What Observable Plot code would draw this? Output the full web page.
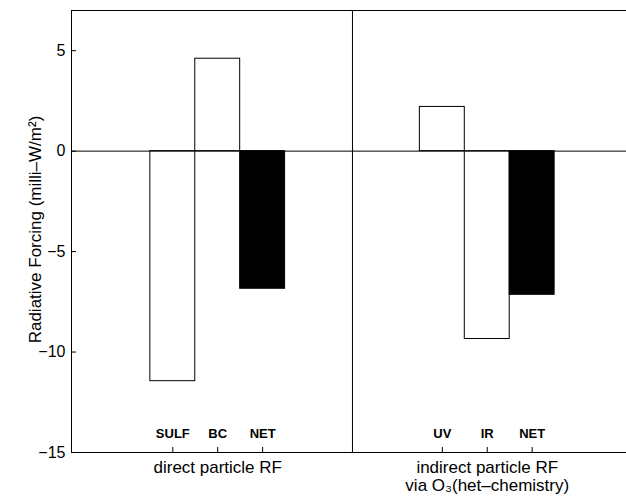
<!DOCTYPE html>
<html><head><meta charset="utf-8">
<script src="https://cdn.jsdelivr.net/npm/d3@7"></script>
<script src="https://cdn.jsdelivr.net/npm/@observablehq/plot@0.6"></script>
<style>body{margin:0;background:#fff}</style>
</head><body><div id="chart"></div>
<script>
const groups = ["direct particle RF", "indirect particle RF\nvia O₃(het–chemistry)"];
const categories = ["SULF", "BC", "NET", "UV", "IR", "NET"];
const categoryGroup = [0, 0, 0, 1, 1, 1];
const values = [-11.45, 4.6, -6.85, 2.2, -9.35, -7.15];
const yTicks = [-15, -10, -5, 0, 5];
const yLabel = "Radiative Forcing (milli–W/m²)";

const slot = categories.map((c, i) => {
  const g = categoryGroup[i];
  const k = categoryGroup.slice(0, i).filter(v => v === g).length;
  return g * 6 + k + 1;
});
const bars = categories.map((c, i) => ({name: c, x: slot[i], value: values[i], net: c === "NET"}));
const groupCenters = groups.map((g, gi) => d3.mean(bars.filter((b, i) => categoryGroup[i] === gi), b => b.x));
const divider = (groupCenters[0] + groupCenters[1]) / 2;
const xDomain = [-1.255, 11.1];
const yDomain = [-15, 7];

const chart = Plot.plot({
  width: 626, height: 500,
  marginLeft: 71, marginRight: 0, marginTop: 10, marginBottom: 48,
  style: {fontFamily: "'Liberation Sans', Arial, sans-serif", fontSize: "16px", color: "black", background: "white"},
  x: {type: "linear", domain: xDomain, axis: null},
  y: {domain: yDomain, axis: null},
  marks: [
    Plot.rect(bars.filter(d => !d.net), {x1: d => d.x - 0.5, x2: d => d.x + 0.5, y1: 0, y2: "value", fill: "white", stroke: "black", strokeWidth: 1}),
    Plot.rect(bars.filter(d => d.net), {x1: d => d.x - 0.5, x2: d => d.x + 0.5, y1: 0, y2: "value", fill: "black", stroke: "black", strokeWidth: 1}),
    Plot.ruleY([0], {stroke: "black"}),
    Plot.ruleX([divider], {stroke: "black"}),
    Plot.ruleY([yDomain[1]], {stroke: "black"}),
    Plot.ruleY([yDomain[0]], {stroke: "black"}),
    Plot.ruleX([xDomain[0]], {stroke: "black"}),
    Plot.axisY({ticks: yTicks, tickSize: 0, tickPadding: 6, label: null, fontSize: 16}),
    Plot.axisY({ticks: yTicks, tickSize: 5, dx: 5, tickFormat: () => "", label: null, stroke: "black"}),
    Plot.text([yLabel], {frameAnchor: "left", textAnchor: "middle", rotate: -90, dx: -36, dy: -2, fontSize: 17, text: d => d}),
    Plot.axisX({ticks: slot, tickSize: 5, dy: -5, tickFormat: () => "", label: null, stroke: "black"}),
    Plot.axisX({ticks: slot, tickSize: 0, tickPadding: 0, dy: -24, tickFormat: d => categories[slot.indexOf(d)], fontWeight: "bold", fontSize: 13, label: null}),
    Plot.axisX({ticks: groupCenters, tickSize: 0, tickPadding: 8, tickFormat: d => groups[groupCenters.indexOf(d)], fontSize: 17, lineHeight: 1.05, label: null})
  ]
});
document.getElementById("chart").append(chart);
</script>
</body></html>
